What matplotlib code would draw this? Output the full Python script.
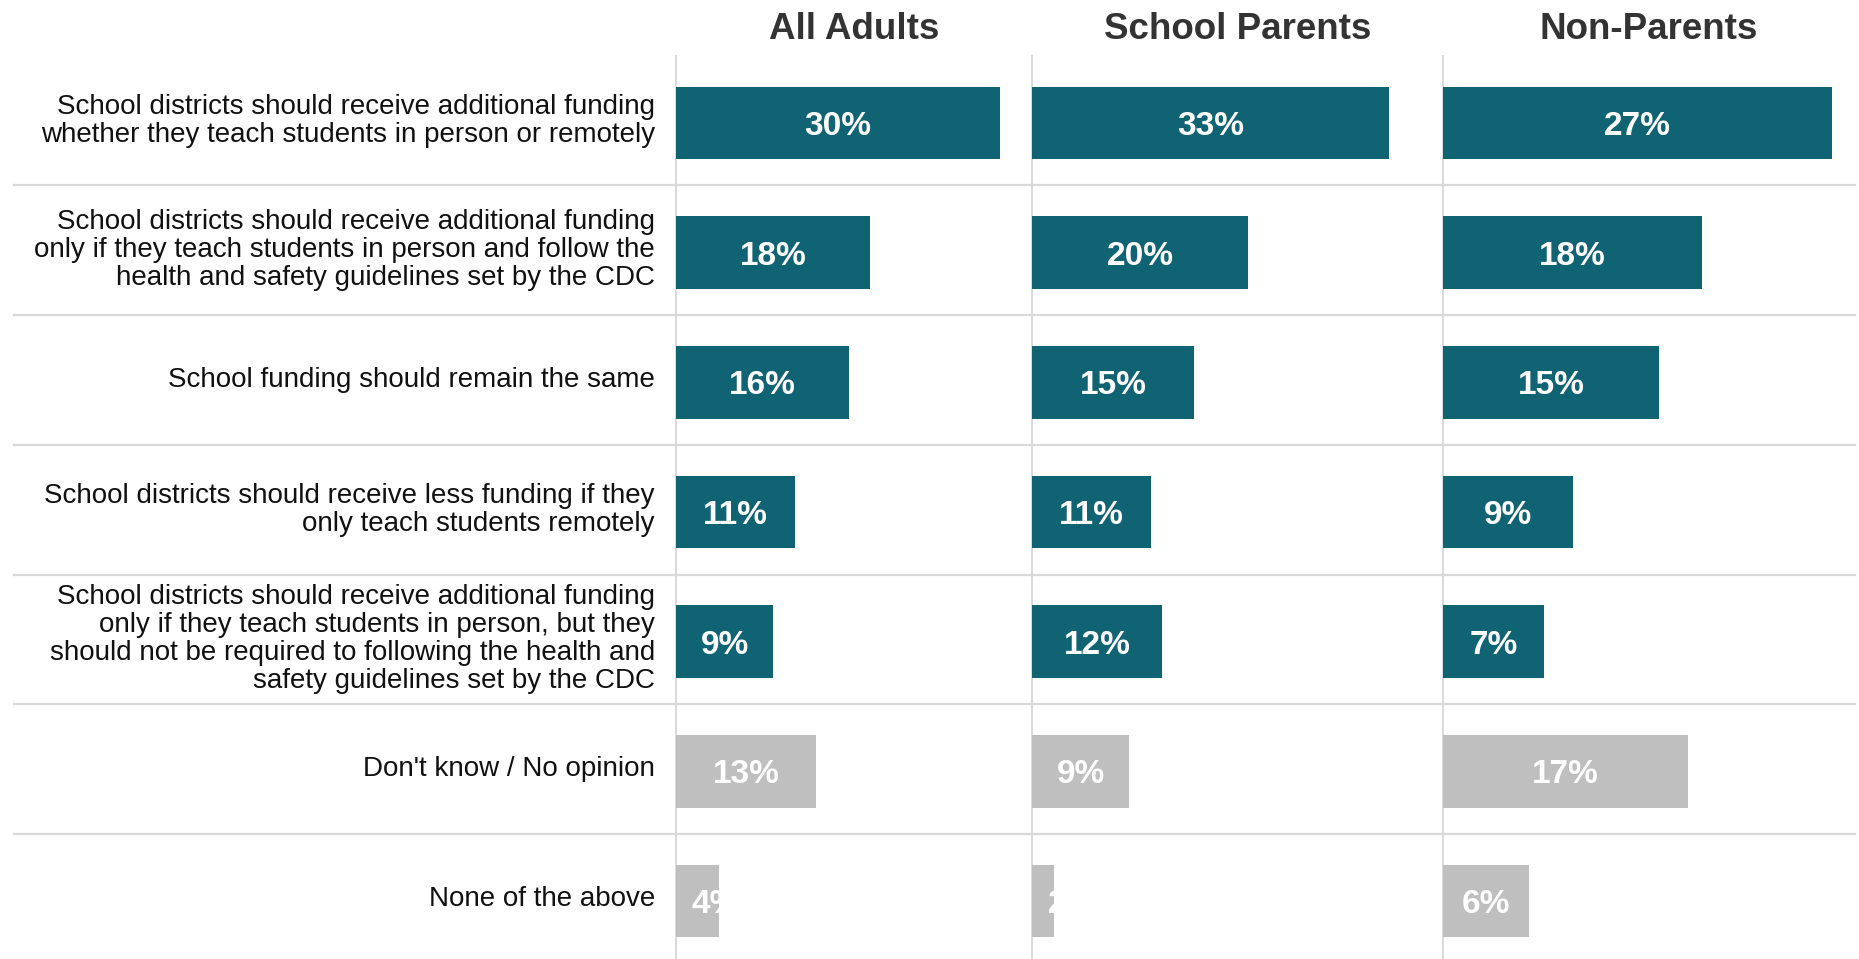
import matplotlib
matplotlib.use('Agg')
import matplotlib.pyplot as plt
from matplotlib.lines import Line2D
from matplotlib import transforms

plt.rcParams['font.family'] = ['Liberation Sans', 'DejaVu Sans']

# answer options, top to bottom
answers = [
    "School districts should receive additional funding\nwhether they teach students in person or remotely",
    "School districts should receive additional funding\nonly if they teach students in person and follow the\nhealth and safety guidelines set by the CDC",
    "School funding should remain the same",
    "School districts should receive less funding if they\nonly teach students remotely",
    "School districts should receive additional funding\nonly if they teach students in person, but they\nshould not be required to following the health and\nsafety guidelines set by the CDC",
    "Don't know / No opinion",
    "None of the above",
]
groups = ["All Adults", "School Parents", "Non-Parents"]
all_adults = [30, 18, 16, 11, 9, 13, 4]
school_parents = [33, 20, 15, 11, 12, 9, 2]
non_parents = [27, 18, 15, 9, 7, 17, 6]
values = [all_adults, school_parents, non_parents]
# the last two answers are the "no answer" ones, drawn in gray
is_neutral = [False, False, False, False, False, True, True]

TEAL = '#106372'
GRAY = '#bfbfbf'
GRID = '#d9d9d9'

W, H = 1859, 959
fig = plt.figure(figsize=(W / 100, H / 100), dpi=100)

# panel edges in pixels
edges = [676, 1032, 1443, 1855]
xmax = [33, 38, 28.6]
top_px = 55.7
row_px = 129.7
y_bottom = -0.5 + (H - top_px) / row_px
bar_shift = 0.018           # bars sit a touch below the row middle
cap_half = 12.0 / row_px    # half the cap height of the value labels, in rows

axes = []
for i in range(3):
    left = edges[i] / W
    width = (edges[i + 1] - edges[i]) / W
    ax = fig.add_axes([left, 0, width, 1 - top_px / H])
    ax.set_xlim(0, xmax[i])
    ax.set_ylim(y_bottom, -0.5)
    ax.axis('off')
    axes.append(ax)

renderer = fig.canvas.get_renderer()
pad_px = 16

for i, ax in enumerate(axes):
    colors = [GRAY if n else TEAL for n in is_neutral]
    ys = [j + bar_shift for j in range(len(answers))]
    bars = ax.barh(ys, values[i], height=0.56, color=colors, zorder=2)
    # panel divider line
    ax.axvline(0, color=GRID, lw=1.4, zorder=1, clip_on=False)
    ax.text(0.5, 1 + (top_px - 39) / (H - top_px), groups[i], transform=ax.transAxes,
            ha='center', va='baseline', fontsize=26.5, fontweight='bold', color='#333333')
    for j, (bar, v) in enumerate(zip(bars, values[i])):
        y = ys[j] + cap_half
        t = ax.text(v / 2, y, f"{v}%", ha='center', va='baseline', fontsize=24,
                    fontweight='bold', color='white', zorder=3)
        x0 = ax.transData.transform((0, y))[0]
        xc = ax.transData.transform((v / 2, y))[0]
        w = t.get_window_extent(renderer).width
        if xc - w / 2 < x0 + pad_px:
            t.set_x(0)
            t.set_ha('left')
            t.set_transform(transforms.offset_copy(ax.transData, fig=fig, x=pad_px, units='dots'))
        t.set_clip_path(bar)

# answer labels on the left
ax0 = axes[0]
lab_tr = transforms.blended_transform_factory(fig.transFigure, ax0.transData)
for j, a in enumerate(answers):
    ax0.text(655 / W, j, a, transform=lab_tr, ha='right', va='center', fontsize=20,
             color='#111111', linespacing=1.1, clip_on=False)

# row separators across the whole figure
for j in range(len(answers) - 1):
    fig.add_artist(Line2D([14 / W, 1855 / W], [j + 0.5, j + 0.5], transform=lab_tr,
                          color=GRID, lw=1.6, zorder=0))

fig.savefig('out.png', dpi=100)
